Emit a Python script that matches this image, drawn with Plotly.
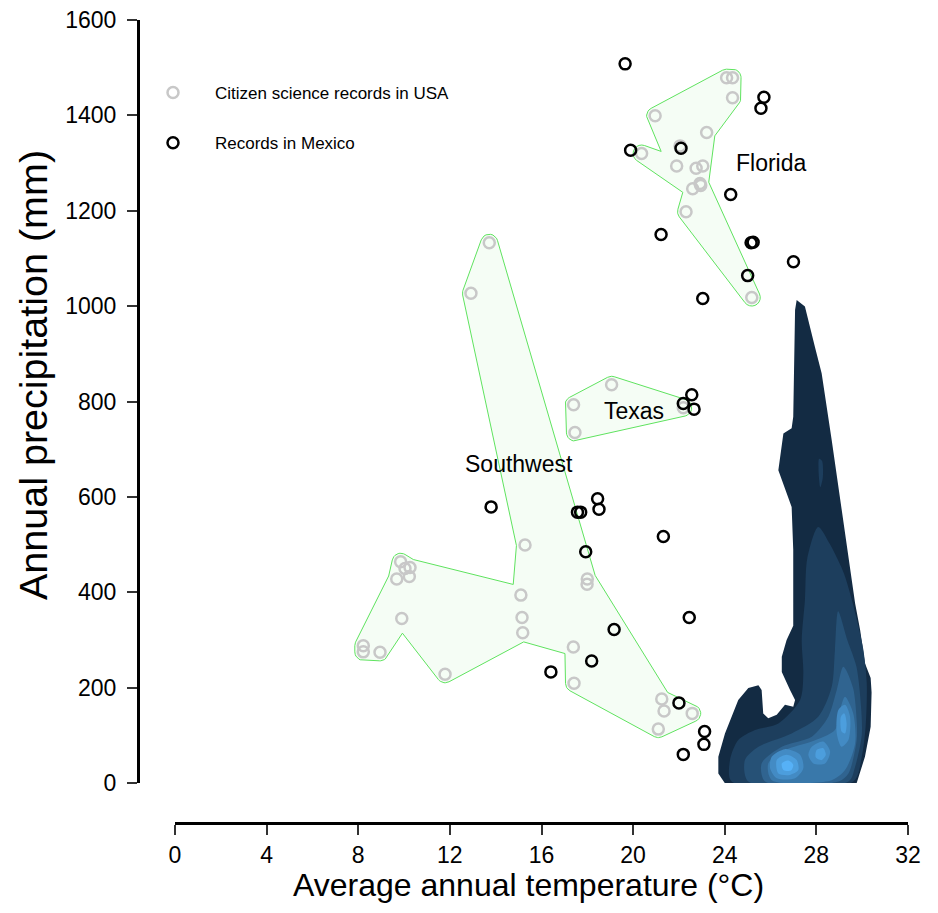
import numpy as np
import plotly.graph_objects as go

# ---------------- data ----------------
# USA citizen-science records, grouped by region (°C, mm)
florida_temp = [24.08, 24.34, 24.34, 20.96, 23.21, 22.05, 20.37, 21.90, 22.75, 23.04, 22.92, 22.95, 22.60, 22.31, 25.18]
florida_prec = [1479, 1479, 1437, 1399, 1364, 1336, 1320, 1294, 1289, 1294, 1257, 1253, 1246, 1198, 1018]
florida_hull = [6, 7, 3, 0, 1, 2, 4, 10, 14, 13, 12]

texas_temp = [19.06, 22.19, 17.46, 17.40]
texas_prec = [835, 787, 735, 793]
texas_hull = [0, 1, 2, 3]

southwest_temp = [13.72, 12.92, 15.28, 9.85, 10.04, 10.26, 10.23, 9.68, 15.10, 18.00, 17.99, 9.90,
                  15.15, 15.18, 8.22, 8.22, 8.95, 11.79, 17.39, 17.42, 21.25, 21.35, 22.58, 21.10]
southwest_prec = [1133, 1027, 499, 464, 450, 452, 433, 428, 394, 428, 417, 345,
                  347, 315, 288, 275, 274, 228, 285, 209, 176, 151, 146, 113]
southwest_hull = [0, 9, 20, 22, 23, 19, 18, 13, 17, 11, 16, 15, 14, 7, 3, 5, 8, 2, 1]

# Records in Mexico
mexico_temp = [19.65, 25.71, 25.58, 19.89, 22.09, 24.26, 21.22, 25.15, 25.24, 27.00, 25.00, 23.04,
               22.56, 22.19, 22.66, 13.80, 17.57, 17.71, 18.45, 18.51, 17.93, 21.32, 22.45, 19.17,
               18.19, 16.41, 22.00, 23.12, 23.09, 22.19]
mexico_prec = [1508, 1438, 1415, 1327, 1331, 1234, 1150, 1133, 1134, 1093, 1064, 1016,
               814, 796, 784, 579, 568, 568, 596, 574, 485, 517, 347, 322,
               256, 233, 168, 108, 81, 60]

# Region labels
region_names = ["Florida", "Texas", "Southwest"]
label_temp = [26.06, 20.04, 15.02]
label_prec = [1300, 780, 669]

# Filled density bands (outer -> inner), boundaries as (°C, mm)
band1 = [(27.14, 1013), (27.5, 999), (27.94, 914), (28.23, 859), (28.67, 719), (29.03, 600), (29.39, 475),
         (29.69, 377), (29.91, 321), (30.12, 251), (30.37, 220), (30.41, 190), (30.37, 118), (30.12, 55),
         (29.76, 0), (24.0, 0), (23.72, 20), (23.72, 55), (24.01, 104), (24.59, 174), (25.03, 199),
         (25.47, 205), (25.61, 195), (25.68, 146), (25.9, 136), (26.27, 143), (26.63, 164), (26.99, 160),
         (27.07, 174), (26.85, 195), (26.49, 233), (26.49, 265), (26.7, 300), (26.99, 330), (26.99, 384),
         (26.99, 489), (26.92, 579), (26.34, 656), (26.56, 733), (26.92, 744), (26.99, 768), (27.07, 992)]
band2 = [[(28.08, 537), (28.6, 500), (29.2, 440), (29.55, 384), (29.83, 330), (30.05, 280), (30.2, 209),
          (30.15, 118), (29.98, 55), (29.61, 3), (24.3, 3), (24.23, 48), (24.59, 90), (25.32, 111),
          (26.34, 125), (27.29, 174), (27.43, 230), (27.36, 300), (27.5, 384), (27.6, 470)],
         [(28.12, 680), (28.25, 675), (28.28, 640), (28.17, 620), (28.1, 650)]]
band3 = [[(28.95, 360), (29.35, 300), (29.75, 244), (29.95, 160), (29.98, 100), (29.69, 34), (29.4, 3),
          (25.03, 3), (24.88, 48), (25.47, 76), (26.92, 104), (28.08, 139), (28.67, 202), (28.81, 279)]]
band4 = [[(29.18, 244), (29.6, 200), (29.76, 130), (29.76, 90), (29.4, 20), (28.96, 3), (25.76, 3),
          (25.61, 41), (26.49, 76), (27.8, 97), (28.52, 139), (28.89, 195)]]
band5 = [[(29.25, 181), (29.61, 146), (29.69, 83), (29.25, 27), (28.67, 6), (26.05, 6), (25.9, 41),
          (26.63, 69), (27.8, 87), (28.81, 111), (29.03, 153)]]
band6 = [[(26.05, 55), (26.63, 71), (27.29, 59), (27.43, 31), (27.07, 10), (26.27, 10), (25.98, 31)],
         [(27.8, 76), (28.3, 87), (28.6, 66), (28.38, 41), (27.87, 41), (27.65, 59)],
         [(28.96, 153), (29.25, 164), (29.47, 139), (29.4, 90), (29.1, 76), (28.89, 104)]]
band7 = [[(26.27, 48), (26.7, 59), (27.14, 48), (27.21, 27), (26.85, 17), (26.34, 20)],
         [(28.01, 69), (28.3, 73), (28.41, 59), (28.23, 48), (27.97, 54)],
         [(29.07, 139), (29.22, 146), (29.32, 125), (29.25, 104), (29.1, 108)]]
band8 = [[(26.49, 41), (26.78, 47), (26.99, 38), (26.89, 26), (26.56, 27)]]

x_ticks = [0, 4, 8, 12, 16, 20, 24, 28, 32]
y_ticks = [0, 200, 400, 600, 800, 1000, 1200, 1400, 1600]

# ---------------- geometry helpers ----------------
OFF = 8                      # page body margin
FW, FH = 938 - 2 * OFF, 913 - 2 * OFF
ML, MR, MT, MB = 92, 8, 10, 72
PW, PH = FW - ML - MR, FH - MT - MB


def fx(px):
    return (px - OFF - ML) / PW


def fy(py):
    return (FH - MB - (py - OFF)) / PH


x_dom = [fx(175), fx(908)]
y_dom = [fy(783), fy(20)]
X_RANGE, Y_RANGE = [0, 32], [0, 1600]
SX = (x_dom[1] - x_dom[0]) * PW / (X_RANGE[1] - X_RANGE[0])   # px per °C
SY = (y_dom[1] - y_dom[0]) * PH / (Y_RANGE[1] - Y_RANGE[0])   # px per mm


def expanded_hull(temp, prec, order, r=8.5, n_arc=10):
    x = np.array([temp[i] for i in order]) * SX
    y = np.array([prec[i] for i in order]) * SY
    n = len(x)
    area = 0.5 * np.sum(x * np.roll(y, -1) - np.roll(x, -1) * y)
    sgn = 1.0 if area > 0 else -1.0
    ox, oy = [], []
    for i in range(n):
        p0 = np.array([x[i - 1], y[i - 1]])
        p1 = np.array([x[i], y[i]])
        p2 = np.array([x[(i + 1) % n], y[(i + 1) % n]])
        d1 = (p1 - p0) / np.linalg.norm(p1 - p0)
        d2 = (p2 - p1) / np.linalg.norm(p2 - p1)
        n1 = sgn * np.array([d1[1], -d1[0]])
        n2 = sgn * np.array([d2[1], -d2[0]])
        cross = d1[0] * d2[1] - d1[1] * d2[0]
        if cross * sgn > 0:
            a1 = np.arctan2(n1[1], n1[0])
            a2 = np.arctan2(n2[1], n2[0])
            da = a2 - a1
            if sgn > 0:
                while da < 0:
                    da += 2 * np.pi
            else:
                while da > 0:
                    da -= 2 * np.pi
            for t in np.linspace(0, 1, n_arc):
                a = a1 + da * t
                ox.append(p1[0] + r * np.cos(a))
                oy.append(p1[1] + r * np.sin(a))
        else:
            m = n1 + n2
            den = max(1 + np.dot(n1, n2), 0.3)
            q = p1 + r * m / den
            ox.append(q[0])
            oy.append(q[1])
    ox.append(ox[0])
    oy.append(oy[0])
    return np.array(ox) / SX, np.array(oy) / SY


def poly_xy(polys):
    xs, ys = [], []
    for k, poly in enumerate(polys):
        if k > 0:
            xs.append(None)
            ys.append(None)
        xs += [p[0] for p in poly] + [poly[0][0]]
        ys += [p[1] for p in poly] + [poly[0][1]]
    return xs, ys


def lerp_color(c0, c1, t):
    return "rgb({},{},{})".format(*[int(round(a + (b - a) * t)) for a, b in zip(c0, c1)])


# ---------------- figure ----------------
fig = go.Figure()

for temp, prec, order in [(southwest_temp, southwest_prec, southwest_hull),
                          (texas_temp, texas_prec, texas_hull),
                          (florida_temp, florida_prec, florida_hull)]:
    hx, hy = expanded_hull(temp, prec, order)
    fig.add_trace(go.Scatter(x=hx, y=hy, mode="lines", fill="toself",
                             fillcolor="rgba(60,220,60,0.05)",
                             line=dict(color="#5fe35f", width=1),
                             hoverinfo="skip", showlegend=False))

bands = [[band1], band2, band3, band4, band5, band6, band7, band8]
c_lo, c_hi = (19, 43, 67), (86, 177, 247)
for k, polys in enumerate(bands):
    bx, by = poly_xy(polys)
    col = lerp_color(c_lo, c_hi, k / (len(bands) - 1))
    fig.add_trace(go.Scatter(x=bx, y=by, mode="lines", fill="toself", fillcolor=col,
                             line=dict(width=0, color=col,
                                       shape="linear" if k == 0 else "spline",
                                       smoothing=0.8),
                             hoverinfo="skip", showlegend=False))

usa_temp = florida_temp + texas_temp + southwest_temp
usa_prec = florida_prec + texas_prec + southwest_prec
fig.add_trace(go.Scatter(x=usa_temp, y=usa_prec, mode="markers",
                         name="Citizen science records in USA", legendgroup="usa",
                         marker=dict(symbol="circle-open", size=11, color="#c8c8c8",
                                     line=dict(width=2.5, color="#c8c8c8"))))
fig.add_trace(go.Scatter(x=mexico_temp, y=mexico_prec, mode="markers",
                         name="Records in Mexico", legendgroup="mex",
                         marker=dict(symbol="circle-open", size=11, color="black",
                                     line=dict(width=2.5, color="black"))))

for name, t, p in zip(region_names, label_temp, label_prec):
    fig.add_annotation(x=t, y=p, text=name, showarrow=False,
                       font=dict(family="Liberation Sans", size=23, color="black"))

fig.add_annotation(xref="paper", yref="paper", x=fx(528), y=fy(885),
                   text="Average annual temperature (°C)", showarrow=False,
                   xanchor="center", yanchor="middle",
                   font=dict(family="Liberation Sans", size=32, color="black"))
fig.add_annotation(xref="paper", yref="paper", x=fx(33), y=fy(375),
                   text="Annual precipitation (mm)", showarrow=False, textangle=-90,
                   xanchor="center", yanchor="middle",
                   font=dict(family="Liberation Sans", size=39.5, color="black"))

axis_common = dict(showline=True, linewidth=3, linecolor="black", ticks="outside",
                   ticklen=10, tickwidth=2, tickcolor="#333333", showgrid=False,
                   zeroline=False, ticklabeloverflow="allow",
                   tickfont=dict(family="Liberation Sans", size=23, color="black"))

fig.update_layout(
    width=FW, height=FH,
    margin=dict(l=ML, r=MR, t=MT, b=MB, autoexpand=False),
    plot_bgcolor="white", paper_bgcolor="white",
    xaxis=dict(domain=x_dom, range=X_RANGE, anchor="free", position=fy(823),
               tickvals=x_ticks, **axis_common),
    yaxis=dict(domain=y_dom, range=Y_RANGE, anchor="free", position=fx(138),
               tickvals=y_ticks, ticklabelstandoff=6, **axis_common),
    legend=dict(x=fx(131), y=fy(75), xanchor="left", yanchor="top",
                font=dict(family="Liberation Sans", size=17, color="black"),
                itemwidth=74, tracegroupgap=25, bgcolor="rgba(0,0,0,0)"),
    font=dict(family="Liberation Sans"),
)

fig.write_html("out.html")
